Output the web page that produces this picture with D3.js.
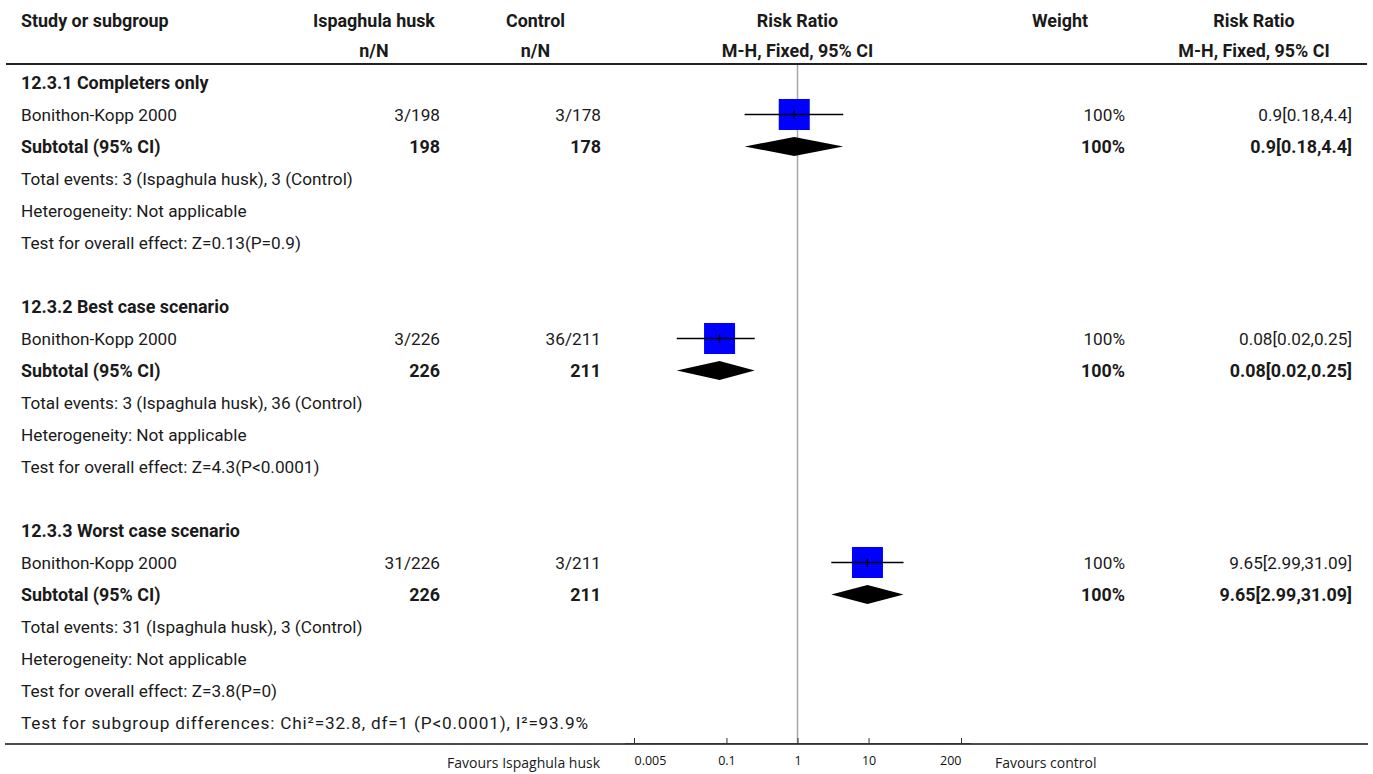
<!DOCTYPE html>
<html>
<head>
<meta charset="utf-8">
<script src="https://cdn.jsdelivr.net/npm/d3@7"></script>
<style>
  html, body { margin: 0; padding: 0; background: #fff; }
  svg { display: block; }
  .t { font-family: Roboto, "Noto Sans", sans-serif; font-size: 17.2px; fill: #1a1a1a; }
  .b { font-weight: bold; font-size: 17.9px; }
  .ax { font-family: "Open Sans", sans-serif; }
</style>
</head>
<body>
<svg id="chart" width="1373" height="774"></svg>
<script>
// Forest plot: Ispaghula husk vs control, three sensitivity subgroups
const subgroups = ["12.3.1 Completers only", "12.3.2 Best case scenario", "12.3.3 Worst case scenario"];
const studyNames = ["Bonithon-Kopp 2000", "Bonithon-Kopp 2000", "Bonithon-Kopp 2000"];
const treatEvents = [3, 3, 31];
const treatTotal = [198, 226, 226];
const ctrlEvents = [3, 36, 3];
const ctrlTotal = [178, 211, 211];
const riskRatio = [0.9, 0.08, 9.65];
const ciLower = [0.18, 0.02, 2.99];
const ciUpper = [4.4, 0.25, 31.09];
const weights = [100, 100, 100];
const rrText = ["0.9[0.18,4.4]", "0.08[0.02,0.25]", "9.65[2.99,31.09]"];
const overallEffect = ["Z=0.13(P=0.9)", "Z=4.3(P<0.0001)", "Z=3.8(P=0)"];
const heterogeneity = ["Not applicable", "Not applicable", "Not applicable"];
const subgroupTest = "Test for subgroup differences: Chi\u00b2=32.8, df=1 (P<0.0001), I\u00b2=93.9%";
const axisTicks = [0.005, 0.1, 1, 10, 200];
const treatName = "Ispaghula husk";
const ctrlName = "Control";

const svg = d3.select("#chart");

// layout
const rowH = 32, firstBase = 89;
const colLabel = 21, colTreat = 440, colCtrl = 601, colW = 1125, colRR = 1352;
const hdrTreat = 374, hdrCtrl = 535.5, hdrW = 1060, hdrRR = 1254;
const lineTop = 64, axisY = 744;

const x = d3.scaleLog().domain([0.005, 200]).range([634, 961]);
const xc = x(1);

// build row list
const rows = [];
subgroups.forEach((g, i) => {
  rows.push({type: "group", label: g});
  rows.push({type: "study", i});
  rows.push({type: "subtotal", i});
  rows.push({type: "note", label: `Total events: ${treatEvents[i]} (${treatName}), ${ctrlEvents[i]} (${ctrlName})`});
  rows.push({type: "note", label: `Heterogeneity: ${heterogeneity[i]}`});
  rows.push({type: "note", label: `Test for overall effect: ${overallEffect[i]}`});
  if (i < subgroups.length - 1) rows.push({type: "blank"});
});
rows.push({type: "summary", label: subgroupTest});

const base = k => firstBase + k * rowH;

function text(xp, yp, s, anchor, bold, cls) {
  return svg.append("text")
    .attr("class", "t" + (bold ? " b" : "") + (cls ? " " + cls : ""))
    .attr("x", xp).attr("y", yp)
    .attr("text-anchor", anchor || "start")
    .text(s);
}

// header
text(colLabel, 27, "Study or subgroup", "start", true);
text(hdrTreat, 27, treatName, "middle", true);
text(hdrTreat, 57, "n/N", "middle", true);
text(hdrCtrl, 27, ctrlName, "middle", true);
text(hdrCtrl, 57, "n/N", "middle", true);
text(xc, 27, "Risk Ratio", "middle", true);
text(xc, 57, "M-H, Fixed, 95% CI", "middle", true);
text(hdrW, 27, "Weight", "middle", true);
text(hdrRR, 27, "Risk Ratio", "middle", true);
text(hdrRR, 57, "M-H, Fixed, 95% CI", "middle", true);

svg.append("line").attr("x1", 6).attr("x2", 1367).attr("y1", lineTop).attr("y2", lineTop)
  .attr("stroke", "#222").attr("stroke-width", 2);

// line of no effect
svg.append("line").attr("x1", xc).attr("x2", xc).attr("y1", lineTop + 1).attr("y2", axisY)
  .attr("stroke", "#a8a8a8").attr("stroke-width", 1.5);

const boxSize = d3.scaleSqrt().domain([0, 100]).range([0, 31]);

rows.forEach((r, k) => {
  const yb = base(k), ym = yb - 6.5;
  if (r.type === "group") {
    text(colLabel, yb, r.label, "start", true);
  } else if (r.type === "note") {
    text(colLabel, yb, r.label);
  } else if (r.type === "summary") {
    // the subgroup-difference line is set a little looser
    text(colLabel, yb, r.label).attr("textLength", 567).attr("lengthAdjust", "spacing");
  } else if (r.type === "study") {
    const i = r.i;
    text(colLabel, yb, studyNames[i]);
    text(colTreat, yb, `${treatEvents[i]}/${treatTotal[i]}`, "end");
    text(colCtrl, yb, `${ctrlEvents[i]}/${ctrlTotal[i]}`, "end");
    text(colW, yb, `${weights[i]}%`, "end");
    text(colRR, yb, rrText[i], "end");
    const s = boxSize(weights[i]);
    svg.append("rect").attr("x", x(riskRatio[i]) - s / 2).attr("y", ym - s / 2)
      .attr("width", s).attr("height", s).attr("fill", "#0000ff");
    svg.append("line").attr("x1", x(ciLower[i])).attr("x2", x(ciUpper[i]))
      .attr("y1", ym).attr("y2", ym).attr("stroke", "#000").attr("stroke-width", 1.3);
    svg.append("line").attr("x1", x(riskRatio[i])).attr("x2", x(riskRatio[i]))
      .attr("y1", ym - 4.5).attr("y2", ym + 4.5).attr("stroke", "#000").attr("stroke-width", 1.3);
  } else if (r.type === "subtotal") {
    const i = r.i;
    text(colLabel, yb, "Subtotal (95% CI)", "start", true);
    text(colTreat, yb, `${treatTotal[i]}`, "end", true);
    text(colCtrl, yb, `${ctrlTotal[i]}`, "end", true);
    text(colW, yb, `${weights[i]}%`, "end", true);
    text(colRR, yb, rrText[i], "end", true);
    const h = 9.5;
    const pts = [[x(ciLower[i]), ym], [x(riskRatio[i]), ym - h], [x(ciUpper[i]), ym], [x(riskRatio[i]), ym + h]];
    svg.append("path").attr("d", d3.line()(pts) + "Z").attr("fill", "#000");
  }
});

// bottom rule and axis
svg.append("line").attr("x1", 5).attr("x2", 1368).attr("y1", axisY).attr("y2", axisY)
  .attr("stroke", "#111").attr("stroke-width", 1.5);

const axis = d3.axisBottom(x).tickValues(axisTicks).tickFormat(d3.format("~g")).tickSize(-5).tickSizeOuter(0);
const gAxis = svg.append("g").attr("transform", `translate(0,${axisY - 1})`).call(axis);
gAxis.select(".domain").attr("d", `M${x.range()[0] - 9},0.5H${x.range()[1] + 10}`).attr("stroke", "#333");
gAxis.selectAll(".tick line").attr("stroke", "#333");
gAxis.selectAll(".tick text")
  .attr("class", "ax")
  .attr("font-size", 12.5).attr("fill", "#111")
  .attr("y", 13).attr("dy", "0.71em")
  .attr("text-anchor", (d, i, n) => i === 0 ? "start" : (i === n.length - 1 ? "end" : "middle"));

text(600, 768, "Favours " + treatName, "end", false, "ax").style("font-size", "14px");
text(995, 768, "Favours control", "start", false, "ax").style("font-size", "14px");
</script>
</body>
</html>
